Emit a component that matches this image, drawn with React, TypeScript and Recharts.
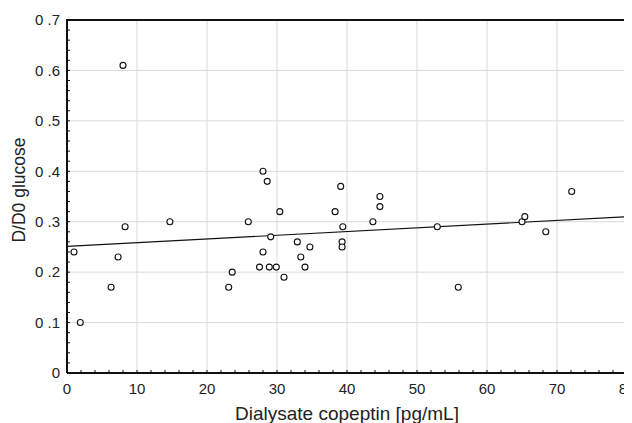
import React from 'react';
import { ScatterChart, Scatter, XAxis, YAxis, ReferenceLine } from 'recharts';

const copeptin = [1.0, 1.9, 6.3, 7.3, 8.0, 8.3, 14.7, 23.1, 23.6, 25.9, 27.5, 28.0, 28.0, 28.6, 28.9, 29.1, 29.9, 30.4, 31.0, 32.9, 33.4, 34.0, 34.7, 38.3, 39.1, 39.3, 39.3, 39.4, 43.7, 44.7, 44.7, 52.9, 55.9, 65.0, 65.4, 68.4, 72.1];
const glucose = [0.24, 0.10, 0.17, 0.23, 0.61, 0.29, 0.30, 0.17, 0.20, 0.30, 0.21, 0.24, 0.40, 0.38, 0.21, 0.27, 0.21, 0.32, 0.19, 0.26, 0.23, 0.21, 0.25, 0.32, 0.37, 0.26, 0.25, 0.29, 0.30, 0.35, 0.33, 0.29, 0.17, 0.30, 0.31, 0.28, 0.36];

const trendX = [0, 80];
const trendY = [0.251, 0.310];

const frameX = [0, 80, 80, 0, 0];
const frameY = [0, 0, 0.7, 0.7, 0];

const xMajor = [0, 10, 20, 30, 40, 50, 60, 70, 80];
const xMajorLabels = ['0', '10', '20', '30', '40', '50', '60', '70', '80'];
const yMajor = [0, 0.1, 0.2, 0.3, 0.4, 0.5, 0.6, 0.7];
const yMajorLabels = ['0', '0 .1', '0 .2', '0 .3', '0 .4', '0 .5', '0 .6', '0 .7'];
const xGrid = [10, 20, 30, 40, 50, 60, 70];
const yGrid = [0.1, 0.2, 0.3, 0.4, 0.5, 0.6];

const xMinor = [0, 2, 4, 6, 8, 10, 12, 14, 16, 18, 20, 22, 24, 26, 28, 30, 32, 34, 36, 38, 40, 42, 44, 46, 48, 50, 52, 54, 56, 58, 60, 62, 64, 66, 68, 70, 72, 74, 76, 78, 80];
const yMinor = [0, 0.02, 0.04, 0.06, 0.08, 0.1, 0.12, 0.14, 0.16, 0.18, 0.2, 0.22, 0.24, 0.26, 0.28, 0.3, 0.32, 0.34, 0.36, 0.38, 0.4, 0.42, 0.44, 0.46, 0.48, 0.5, 0.52, 0.54, 0.56, 0.58, 0.6, 0.62, 0.64, 0.66, 0.68, 0.7];

const points = copeptin.map((x, i) => ({ x, y: glucose[i] }));
const trendSegment = trendX.map((x, i) => ({ x, y: trendY[i] }));
const frame = frameX.map((x, i) => ({ x, y: frameY[i] }));

const fmtX = (v: number) => {
  const i = xMajor.findIndex((m) => Math.abs(m - v) < 1e-6);
  return i >= 0 ? xMajorLabels[i] : '';
};
const fmtY = (v: number) => {
  const i = yMajor.findIndex((m) => Math.abs(m - v) < 1e-6);
  return i >= 0 ? yMajorLabels[i] : '';
};

const Circle = (p: any) => (
  <circle cx={p.cx} cy={p.cy} r={3} fill="#ffffff" stroke="#111111" strokeWidth={1.1} />
);
const Nothing = () => <g />;

const FONT = '"Liberation Sans", Arial, sans-serif';
const FRAME = { stroke: '#111111', strokeWidth: 2 };
const TL = { stroke: '#111111', strokeWidth: 1 };

const YTitle = (props: any) => {
  const vb = props.viewBox || {};
  const cx = 11;
  const cy = (vb.y || 0) + (vb.height || 0) / 2 - 6.5;
  return (
    <text
      x={cx}
      y={cy}
      transform={`rotate(-90 ${cx} ${cy})`}
      textAnchor="middle"
      dominantBaseline="central"
      fill="#222222"
      fontSize={17.5}
      fontFamily={FONT}
    >
      D/D0 glucose
    </text>
  );
};

export default function App() {
  return (
    <div style={{ width: 624, height: 415 }}>
      <ScatterChart width={624} height={415} margin={{ top: 12, right: 5, left: 0, bottom: 0 }}>
        {xGrid.map((v) => (
          <ReferenceLine key={`gx${v}`} xAxisId="b" yAxisId="l" x={v} stroke="#d9d9d9" strokeWidth={1} />
        ))}
        {yGrid.map((v) => (
          <ReferenceLine key={`gy${v}`} xAxisId="b" yAxisId="l" y={v} stroke="#d9d9d9" strokeWidth={1} />
        ))}
        <XAxis
          xAxisId="b"
          dataKey="x"
          type="number"
          domain={[0, 80]}
          ticks={xMinor}
          interval={0}
          tickFormatter={fmtX}
          tick={{ fill: '#222222', fontSize: 15, fontFamily: FONT }}
          tickSize={-3}
          tickMargin={13}
          height={50}
          stroke="#111111"
          axisLine={FRAME}
          tickLine={TL}
          label={{
            value: 'Dialysate copeptin [pg/mL]',
            position: 'insideBottom',
            offset: 3,
            style: { fill: '#222222', fontSize: 19, fontFamily: FONT },
          }}
        />
        <XAxis
          xAxisId="t"
          orientation="top"
          type="number"
          domain={[0, 80]}
          ticks={xMinor}
          interval={0}
          tick={false}
          tickSize={-3}
          height={0}
          stroke="#111111"
          axisLine={FRAME}
          tickLine={TL}
        />
        <YAxis
          yAxisId="l"
          dataKey="y"
          type="number"
          domain={[0, 0.7]}
          ticks={yMinor}
          interval={0}
          tickFormatter={fmtY}
          tick={{ fill: '#222222', fontSize: 15, fontFamily: FONT }}
          tickSize={-3}
          tickMargin={10}
          width={59}
          stroke="#111111"
          axisLine={FRAME}
          tickLine={TL}
          label={{ content: YTitle }}
        />
        <YAxis
          yAxisId="r"
          orientation="right"
          type="number"
          domain={[0, 0.7]}
          ticks={yMinor}
          interval={0}
          tick={false}
          tickSize={-3}
          width={0}
          stroke="#111111"
          axisLine={FRAME}
          tickLine={TL}
        />
        <ReferenceLine xAxisId="b" yAxisId="l" segment={trendSegment} stroke="#111111" strokeWidth={1.2} />
        <Scatter
          xAxisId="b"
          yAxisId="l"
          data={frame}
          line={{ stroke: '#111111', strokeWidth: 2 }}
          shape={Nothing}
          isAnimationActive={false}
        />
        <Scatter xAxisId="b" yAxisId="l" data={points} shape={Circle} isAnimationActive={false} />
      </ScatterChart>
    </div>
  );
}
